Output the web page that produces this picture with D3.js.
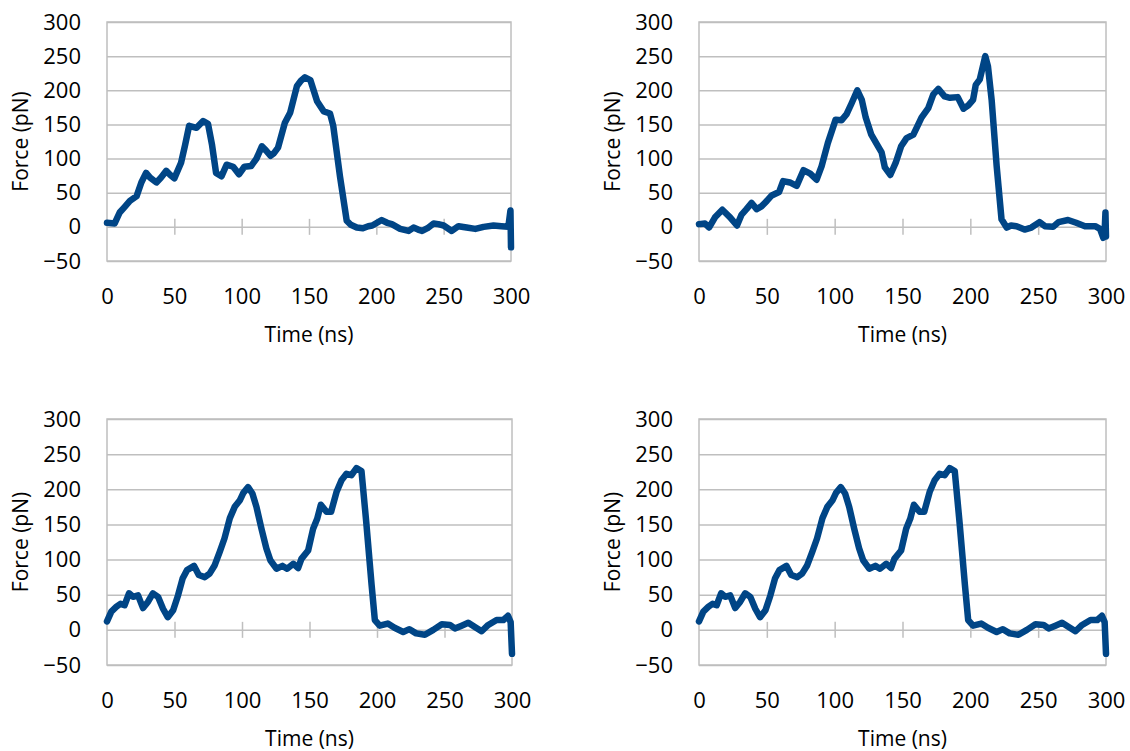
<!DOCTYPE html>
<html>
<head>
<meta charset="utf-8">
<script src="https://cdn.jsdelivr.net/npm/d3@7"></script>
<style>
  body { margin: 0; background: #fff; }
  text { font-family: "Open Sans", sans-serif; fill: #000; }
</style>
</head>
<body>
<div id="chart"></div>
<script>
// axis ticks shared by all four panels
var xTicks = [0, 50, 100, 150, 200, 250, 300]
var yTicks = [-50, 0, 50, 100, 150, 200, 250, 300]

// panel 1 (top left)
var time1 = [0, 5.7, 9.4, 13, 17, 22, 25.5, 29, 32, 36.7, 40, 44, 47, 50, 55, 58, 61, 66.5, 71.4, 75, 78, 81, 85, 88.8, 93.7, 98, 102, 107, 111, 115, 118, 121.5, 124, 127, 132, 136, 141, 144, 147, 151, 156, 161, 165.6, 168, 173, 178, 181, 185.5, 190, 194, 197, 204, 208, 211.5, 217.7, 224, 227.6, 231, 234, 238, 242.5, 246, 250, 256, 261, 267, 273.5, 279.7, 287, 293, 298, 299.6, 300]
var force1 = [6, 5, 21, 29, 38, 45, 65, 79, 72, 65, 72, 82, 76, 71, 94, 120, 148, 145, 155, 151, 120, 79, 74, 91, 88, 77, 88, 89, 100, 118, 112, 104, 108, 116, 152, 167, 206, 214, 219, 215, 184, 169, 166, 148, 74, 9, 3, -1, -2, 1, 2, 10, 6, 4, -3, -6, -1, -4, -6, -2, 5, 4, 2, -6, 1, -1, -3, 0, 2, 1, 0, 24, -30]

// panel 2 (top right)
var time2 = [0, 4.4, 7.4, 11.8, 17.2, 22.9, 28, 31.4, 35, 38.8, 42.5, 46, 50, 53.6, 59, 62, 67, 72, 77, 82, 86.7, 90.4, 95, 100.7, 105, 108.8, 112.5, 116.7, 120, 122.9, 127, 132, 134.6, 137, 141, 145, 149, 153, 158, 160.4, 164, 169, 172.7, 176.4, 181, 185, 190.7, 195, 198.5, 202, 204, 207, 211, 213, 215.7, 219.4, 223, 226.8, 230, 234, 240, 245, 251, 255, 261, 265, 272, 278, 284.5, 292, 295.6, 298, 299, 299.6, 300]
var force2 = [4, 5, -1, 14, 25, 14, 2, 18, 26, 35, 26, 30, 38, 46, 51, 67, 65, 60, 83, 78, 69, 89, 123, 157, 156, 165, 181, 200, 186, 160, 135, 118, 109, 87, 76, 94, 118, 130, 135, 145, 160, 174, 194, 202, 191, 189, 190, 173, 178, 186, 208, 216, 250, 235, 186, 89, 11, -1, 2, 1, -4, -1, 7, 1, 0, 7, 10, 6, 1, 1, -3, -16, -6, 21, -14]

// panel 3 (bottom left)
var time3 = [0, 3.2, 7, 10, 13, 16.3, 19.3, 23, 26.7, 30.4, 34, 37.8, 41.5, 45, 49, 52.6, 56, 59.3, 64.5, 68, 72.4, 76, 79.8, 83.5, 87, 91, 94.6, 98.3, 101, 104.5, 107.7, 110.7, 114.4, 118, 121, 125.5, 130, 133.4, 138, 141.6, 144, 149, 152.7, 155.7, 158.4, 162.6, 166, 170, 173.7, 177.4, 181, 184.8, 188.5, 192, 196, 198.4, 202, 208, 213, 219.4, 224, 229, 235.5, 241.7, 248, 254, 257.7, 262.7, 267.6, 272.5, 277.5, 282.4, 288.6, 293.6, 297, 299, 300]
var force3 = [12, 26, 33, 37, 35, 52, 47, 49, 31, 40, 52, 47, 30, 18, 28, 49, 73, 85, 91, 78, 75, 80, 92, 111, 130, 159, 175, 184, 195, 203, 194, 175, 144, 116, 99, 87, 91, 87, 94, 88, 101, 113, 144, 158, 178, 168, 168, 196, 213, 222, 220, 230, 226, 154, 64, 14, 6, 9, 3, -3, 1, -5, -7, 0, 8, 7, 2, 6, 10, 4, -2, 7, 14, 14, 20, 11, -34]

// panel 4 (bottom right) - same run as panel 3
var time4 = [0, 3.2, 7, 10, 13, 16.3, 19.3, 23, 26.7, 30.4, 34, 37.8, 41.5, 45, 49, 52.6, 56, 59.3, 64.5, 68, 72.4, 76, 79.8, 83.5, 87, 91, 94.6, 98.3, 101, 104.5, 107.7, 110.7, 114.4, 118, 121, 125.5, 130, 133.4, 138, 141.6, 144, 149, 152.7, 155.7, 158.4, 162.6, 166, 170, 173.7, 177.4, 181, 184.8, 188.5, 192, 196, 198.4, 202, 208, 213, 219.4, 224, 229, 235.5, 241.7, 248, 254, 257.7, 262.7, 267.6, 272.5, 277.5, 282.4, 288.6, 293.6, 297, 299, 300]
var force4 = [12, 26, 33, 37, 35, 52, 47, 49, 31, 40, 52, 47, 30, 18, 28, 49, 73, 85, 91, 78, 75, 80, 92, 111, 130, 159, 175, 184, 195, 203, 194, 175, 144, 116, 99, 87, 91, 87, 94, 88, 101, 113, 144, 158, 178, 168, 168, 196, 213, 222, 220, 230, 226, 154, 64, 14, 6, 9, 3, -3, 1, -5, -7, 0, 8, 7, 2, 6, 10, 4, -2, 7, 14, 14, 20, 11, -34]

var width = 1130
    height = 751

var svg = d3.select("#chart")
  .append("svg")
    .attr("width", width)
    .attr("height", height)

// where each plot area sits on the page
var panels = [
  {t: time1, f: force1, x0: 107, x1: 511, y0: 22, y1: 261, ylab: 21},
  {t: time2, f: force2, x0: 699, x1: 1106, y0: 22, y1: 261, ylab: 613},
  {t: time3, f: force3, x0: 107, x1: 512, y0: 419, y1: 665, ylab: 21},
  {t: time4, f: force4, x0: 699, x1: 1106, y0: 419, y1: 665, ylab: 613}
]

var gridColor = "#bfbfbf"
var lineColor = "#004586"

panels.forEach(function(p) {
  var x = d3.scaleLinear().domain([0, 300]).range([p.x0, p.x1])
  var y = d3.scaleLinear().domain([-50, 300]).range([p.y1, p.y0])
  var g = svg.append("g")

  // horizontal gridlines + y tick labels
  var yAxis = g.append("g")
    .attr("transform", "translate(" + p.x0 + ",0)")
    .call(d3.axisLeft(y).tickValues(yTicks).tickSize(-(p.x1 - p.x0)).tickPadding(26))
  yAxis.select(".domain").remove()
  yAxis.selectAll("line").attr("stroke", gridColor).attr("stroke-width", 1.5)
  yAxis.selectAll("text").style("font-size", "22px").attr("fill", "#000")

  // x tick labels below the plot
  var xAxis = g.append("g")
    .attr("transform", "translate(0," + p.y1 + ")")
    .call(d3.axisBottom(x).tickValues(xTicks).tickSize(0).tickPadding(27))
  xAxis.select(".domain").remove()
  xAxis.selectAll("text").style("font-size", "22px").attr("fill", "#000")

  // cross tick marks sitting on the zero line
  var zAxis = g.append("g")
    .attr("transform", "translate(0," + (y(0) - 8) + ")")
    .call(d3.axisBottom(x).tickValues([50, 100, 150, 200, 250]).tickSize(16).tickFormat(""))
  zAxis.select(".domain").remove()
  zAxis.selectAll("line").attr("stroke", gridColor).attr("stroke-width", 1.5)

  // plot border
  g.append("rect")
    .attr("x", p.x0)
    .attr("y", p.y0)
    .attr("width", p.x1 - p.x0)
    .attr("height", p.y1 - p.y0)
    .attr("fill", "none")
    .attr("stroke", gridColor)
    .attr("stroke-width", 1.5)

  var line = d3.line()
    .x(function(d) { return x(d[0]) })
    .y(function(d) { return y(d[1]) })

  g.append("path")
    .datum(d3.zip(p.t, p.f))
    .attr("d", line)
    .attr("fill", "none")
    .attr("stroke", lineColor)
    .attr("stroke-width", 6.5)
    .attr("stroke-linejoin", "round")
    .attr("stroke-linecap", "round")

  // axis titles
  g.append("text")
    .attr("x", (p.x0 + p.x1) / 2)
    .attr("y", p.y1 + 74)
    .attr("dy", "0.35em")
    .attr("text-anchor", "middle")
    .style("font-size", "21px")
    .text("Time (ns)")

  g.append("text")
    .attr("transform", "translate(" + p.ylab + "," + (p.y0 + p.y1) / 2 + ") rotate(-90)")
    .attr("dy", "0.35em")
    .attr("text-anchor", "middle")
    .style("font-size", "21px")
    .text("Force (pN)")
})
</script>
</body>
</html>
